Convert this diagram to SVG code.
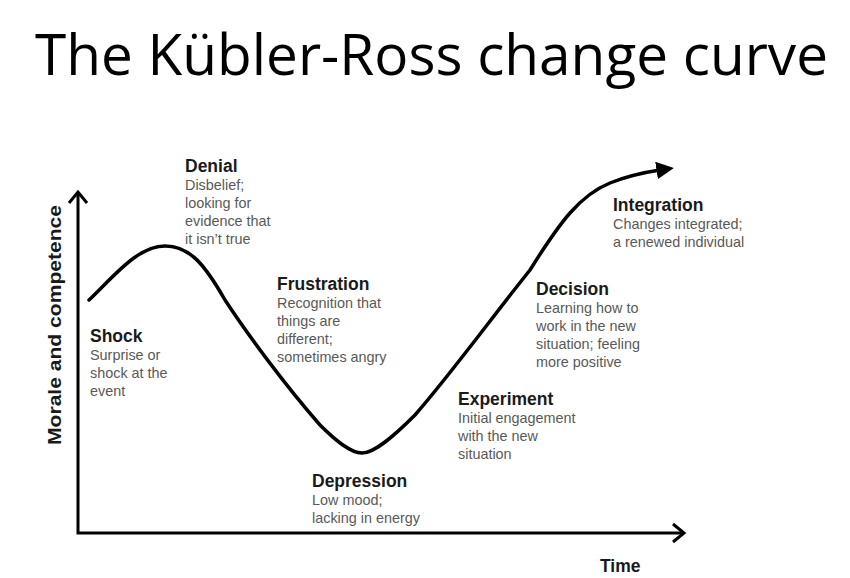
<svg xmlns="http://www.w3.org/2000/svg" width="850" height="578" viewBox="0 0 850 578">
<style>
.title{font-family:"Open Sans","Liberation Sans",sans-serif;font-size:57px;fill:#000}
.h{font-family:"Liberation Sans",Arial,sans-serif;font-weight:bold;font-size:17.5px;fill:#1a1a1a}
.d{font-family:"Liberation Sans",Arial,sans-serif;font-size:14.4px;fill:#595959}
.axis{fill:none;stroke:#000;stroke-width:3}
.curve{fill:none;stroke:#000;stroke-width:3.5;stroke-linecap:round}
.chev{fill:none;stroke:#000;stroke-width:3;stroke-linejoin:miter}
</style>
<defs>
<marker id="tri" viewBox="0 0 10 10" refX="2" refY="5" markerWidth="5" markerHeight="5" orient="auto" markerUnits="strokeWidth">
<path d="M0,0 L10,5 L0,10 Z" fill="#000"/>
</marker>
</defs>
<rect width="850" height="578" fill="#fff"/>
<text class="title" x="35" y="75" textLength="793" lengthAdjust="spacingAndGlyphs">The Kübler-Ross change curve</text>
<g id="connectors">
<path class="axis" d="M78,192 L78,533 L684,533"/>
<path class="chev" d="M69,203 L78,192 L87,203"/>
<path class="chev" d="M673,524 L684,533 L673,542"/>
<path class="curve" marker-end="url(#tri)" d="M89,300 C115,275 138,246 165,246 C190,246 205,265 225,300 C248,335 285,385 320,425 C335,440 350,453 362,453 C375,453 395,435 415,415 C450,375 490,320 530,270 C560,222 580,195 610,183 C625,177 640,173 660,170"/>
</g>
<g id="axis-y-label"><text class="h" transform="translate(61,325) rotate(-90)" text-anchor="middle" textLength="240" lengthAdjust="spacingAndGlyphs">Morale and competence</text></g>
<g id="axis-x-label"><text class="h" x="600" y="572">Time</text></g>
<g id="shock"><text class="h" x="90" y="342">Shock</text>
<text class="d" x="90" y="360">Surprise or</text><text class="d" x="90" y="378">shock at the</text><text class="d" x="90" y="396">event</text></g>
<g id="denial"><text class="h" x="185" y="172">Denial</text>
<text class="d" x="185" y="190">Disbelief;</text><text class="d" x="185" y="208">looking for</text><text class="d" x="185" y="226">evidence that</text><text class="d" x="185" y="244">it isn’t true</text></g>
<g id="frustration"><text class="h" x="277" y="290">Frustration</text>
<text class="d" x="277" y="308">Recognition that</text><text class="d" x="277" y="326">things are</text><text class="d" x="277" y="344">different;</text><text class="d" x="277" y="362">sometimes angry</text></g>
<g id="depression"><text class="h" x="312" y="487">Depression</text>
<text class="d" x="312" y="505">Low mood;</text><text class="d" x="312" y="523">lacking in energy</text></g>
<g id="experiment"><text class="h" x="458" y="405">Experiment</text>
<text class="d" x="458" y="423">Initial engagement</text><text class="d" x="458" y="441">with the new</text><text class="d" x="458" y="459">situation</text></g>
<g id="decision"><text class="h" x="536" y="295">Decision</text>
<text class="d" x="536" y="313">Learning how to</text><text class="d" x="536" y="331">work in the new</text><text class="d" x="536" y="349">situation; feeling</text><text class="d" x="536" y="367">more positive</text></g>
<g id="integration"><text class="h" x="613" y="211">Integration</text>
<text class="d" x="613" y="229">Changes integrated;</text><text class="d" x="613" y="247">a renewed individual</text></g>
</svg>
